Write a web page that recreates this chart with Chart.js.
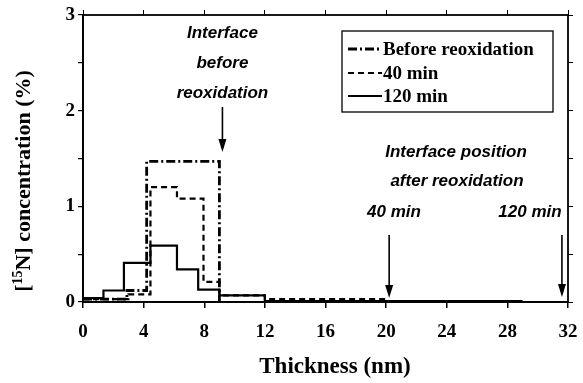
<!DOCTYPE html>
<html>
<head>
<meta charset="utf-8">
<script src="https://cdn.jsdelivr.net/npm/chart.js@4.4.1/dist/chart.umd.min.js"></script>
<style>
  html, body { margin: 0; padding: 0; background: #fff; }
  #wrap { width: 583px; height: 383px; }
</style>
</head>
<body>
<div id="wrap"><canvas id="profile"></canvas></div>
<script>
// step edges (nm) and concentrations (%)
const beforeEdges = [0, 2.9, 4.2, 9.0];
const beforeVals = [0.03, 0.12, 1.47, 0.0];
const min40Edges = [0, 3.0, 4.45, 6.2, 7.95, 9.0, 12.0, 20.0];
const min40Vals = [0.03, 0.08, 1.2, 1.08, 0.21, 0.07, 0.03, 0.03];
const min120Edges = [0, 1.35, 2.7, 4.45, 6.2, 7.6, 9.0, 12.0, 29.0];
const min120Vals = [0.04, 0.12, 0.41, 0.59, 0.34, 0.13, 0.07, 0.01, 0.01];

const xTicks = [0, 4, 8, 12, 16, 20, 24, 28, 32];
const yTicks = [0, 1, 2, 3];

const serif = "'Liberation Serif', 'Times New Roman', serif";
const sans = "'Liberation Sans', Arial, sans-serif";

// with stepped 'before' the line runs flat at the previous value, then jumps
function toPoints(edges, vals) {
    return edges.map((x, i) => ({ x: x, y: vals[i] }));
}

const labelsPlugin = {
    id: 'notes',
    afterDraw(chart) {
        const ctx = chart.ctx;
        const xs = chart.scales.x;
        const area = chart.chartArea;
        ctx.save();

        // frame
        ctx.strokeStyle = '#000';
        ctx.lineWidth = 1.8;
        ctx.strokeRect(area.left, area.top, area.right - area.left, area.bottom - area.top);

        // y title with superscript
        ctx.save();
        ctx.translate(24, 181);
        ctx.rotate(-Math.PI / 2);
        ctx.fillStyle = '#000';
        ctx.textBaseline = 'middle';
        const p1 = '[', sup = '15', p2 = 'N] concentration (%)';
        ctx.font = "bold 22px " + serif;
        const w1 = ctx.measureText(p1).width;
        const w3 = ctx.measureText(p2).width;
        ctx.font = "bold 14px " + serif;
        const w2 = ctx.measureText(sup).width;
        let x0 = -(w1 + w2 + w3) / 2;
        ctx.textAlign = 'left';
        ctx.font = "bold 22px " + serif;
        ctx.fillText(p1, x0, 0);
        ctx.font = "bold 14px " + serif;
        ctx.fillText(sup, x0 + w1, -6);
        ctx.font = "bold 22px " + serif;
        ctx.fillText(p2, x0 + w1 + w2, 0);
        ctx.restore();

        // x title
        ctx.fillStyle = '#000';
        ctx.textAlign = 'center';
        ctx.textBaseline = 'middle';
        ctx.font = "bold 23px " + serif;
        ctx.fillText('Thickness (nm)', 335, 367);

        // annotations
        ctx.font = "italic bold 17px " + sans;
        const xi = xs.getPixelForValue(9.2);
        ctx.fillText('Interface', xi, 33);
        ctx.fillText('before', xi, 63);
        ctx.fillText('reoxidation', xi, 93);
        ctx.fillText('Interface position', 456, 152);
        ctx.fillText('after reoxidation', 457, 181);
        ctx.fillText('40 min', 394, 212);
        ctx.fillText('120 min', 530, 212);

        function arrow(x, y1, y2) {
            ctx.beginPath();
            ctx.lineWidth = 1.6;
            ctx.moveTo(x, y1);
            ctx.lineTo(x, y2 - 8);
            ctx.stroke();
            ctx.beginPath();
            ctx.moveTo(x - 4, y2 - 13);
            ctx.lineTo(x, y2);
            ctx.lineTo(x + 4, y2 - 13);
            ctx.closePath();
            ctx.fill();
        }
        arrow(xi, 107, 152);
        arrow(xs.getPixelForValue(20.2), 235, 298);
        arrow(xs.getPixelForValue(31.6), 235, 297);

        // legend box
        const lx = 342, ly = 31, lw = 211, lh = 81;
        ctx.fillStyle = '#fff';
        ctx.fillRect(lx, ly, lw, lh);
        ctx.lineWidth = 1.3;
        ctx.strokeRect(lx, ly, lw, lh);
        const rows = [49, 73, 96];
        chart.data.datasets.forEach((ds, i) => {
            ctx.beginPath();
            ctx.setLineDash(ds.borderDash || []);
            ctx.lineWidth = ds.borderWidth;
            ctx.strokeStyle = '#000';
            ctx.moveTo(lx + 6, rows[i]);
            ctx.lineTo(lx + 40, rows[i]);
            ctx.stroke();
            ctx.setLineDash([]);
            ctx.fillStyle = '#000';
            ctx.textAlign = 'left';
            ctx.font = "bold 19px " + serif;
            ctx.fillText(ds.label, lx + 41, rows[i] + 1);
        });
        ctx.restore();
    }
};

new Chart(document.getElementById('profile'), {
    type: 'line',
    data: {
        datasets: [
            {
                label: 'Before reoxidation',
                data: toPoints(beforeEdges, beforeVals),
                stepped: 'before',
                borderColor: '#000',
                borderWidth: 2.8,
                borderDash: [9, 3, 2, 3],
                pointRadius: 0,
                fill: false
            },
            {
                label: '40 min',
                data: toPoints(min40Edges, min40Vals),
                stepped: 'before',
                borderColor: '#000',
                borderWidth: 2.2,
                borderDash: [6, 4],
                pointRadius: 0,
                fill: false
            },
            {
                label: '120 min',
                data: toPoints(min120Edges, min120Vals),
                stepped: 'before',
                borderColor: '#000',
                borderWidth: 2.2,
                pointRadius: 0,
                fill: false
            }
        ]
    },
    options: {
        responsive: true,
        maintainAspectRatio: false,
        animation: false,
        layout: { padding: 0 },
        plugins: {
            legend: { display: false },
            tooltip: { enabled: false }
        },
        scales: {
            x: {
                type: 'linear',
                min: 0,
                max: 32,
                afterBuildTicks: s => { s.ticks = xTicks.map(v => ({ value: v })); },
                afterFit: s => { s.height = 81; s.paddingLeft = 0; s.paddingRight = 0; },
                grid: { drawOnChartArea: false, drawTicks: true, tickLength: 6, color: '#000', lineWidth: 1.5 },
                border: { display: true, color: '#000', width: 1.8 },
                ticks: { color: '#000', font: { family: serif, size: 19, weight: 'bold' }, padding: 13, maxRotation: 0 }
            },
            x2: {
                type: 'linear',
                position: 'top',
                min: 0,
                max: 32,
                afterBuildTicks: s => { s.ticks = xTicks.map(v => ({ value: v })); },
                afterFit: s => { s.height = 15; s.paddingLeft = 0; s.paddingRight = 0; },
                grid: { drawOnChartArea: false, drawTicks: true, tickLength: 5, color: '#000' },
                border: { display: false },
                ticks: { display: false }
            },
            y: {
                min: 0,
                max: 3,
                ticks: {
                    stepSize: 0.5,
                    color: '#000',
                    font: { family: serif, size: 19, weight: 'bold' },
                    padding: 3,
                    callback: v => (yTicks.includes(v) ? String(v) : '')
                },
                afterFit: s => { s.width = 83; s.paddingTop = 0; s.paddingBottom = 0; },
                grid: { drawOnChartArea: false, drawTicks: true, tickLength: 5, color: '#000', lineWidth: 1.2 },
                border: { display: true, color: '#000', width: 1.8 }
            },
            y2: {
                position: 'right',
                min: 0,
                max: 3,
                ticks: { display: false, stepSize: 0.5 },
                afterFit: s => { s.width = 15; s.paddingTop = 0; s.paddingBottom = 0; },
                grid: { drawOnChartArea: false, drawTicks: true, tickLength: 5, color: '#000' },
                border: { display: false }
            }
        }
    },
    plugins: [labelsPlugin]
});
</script>
</body>
</html>
